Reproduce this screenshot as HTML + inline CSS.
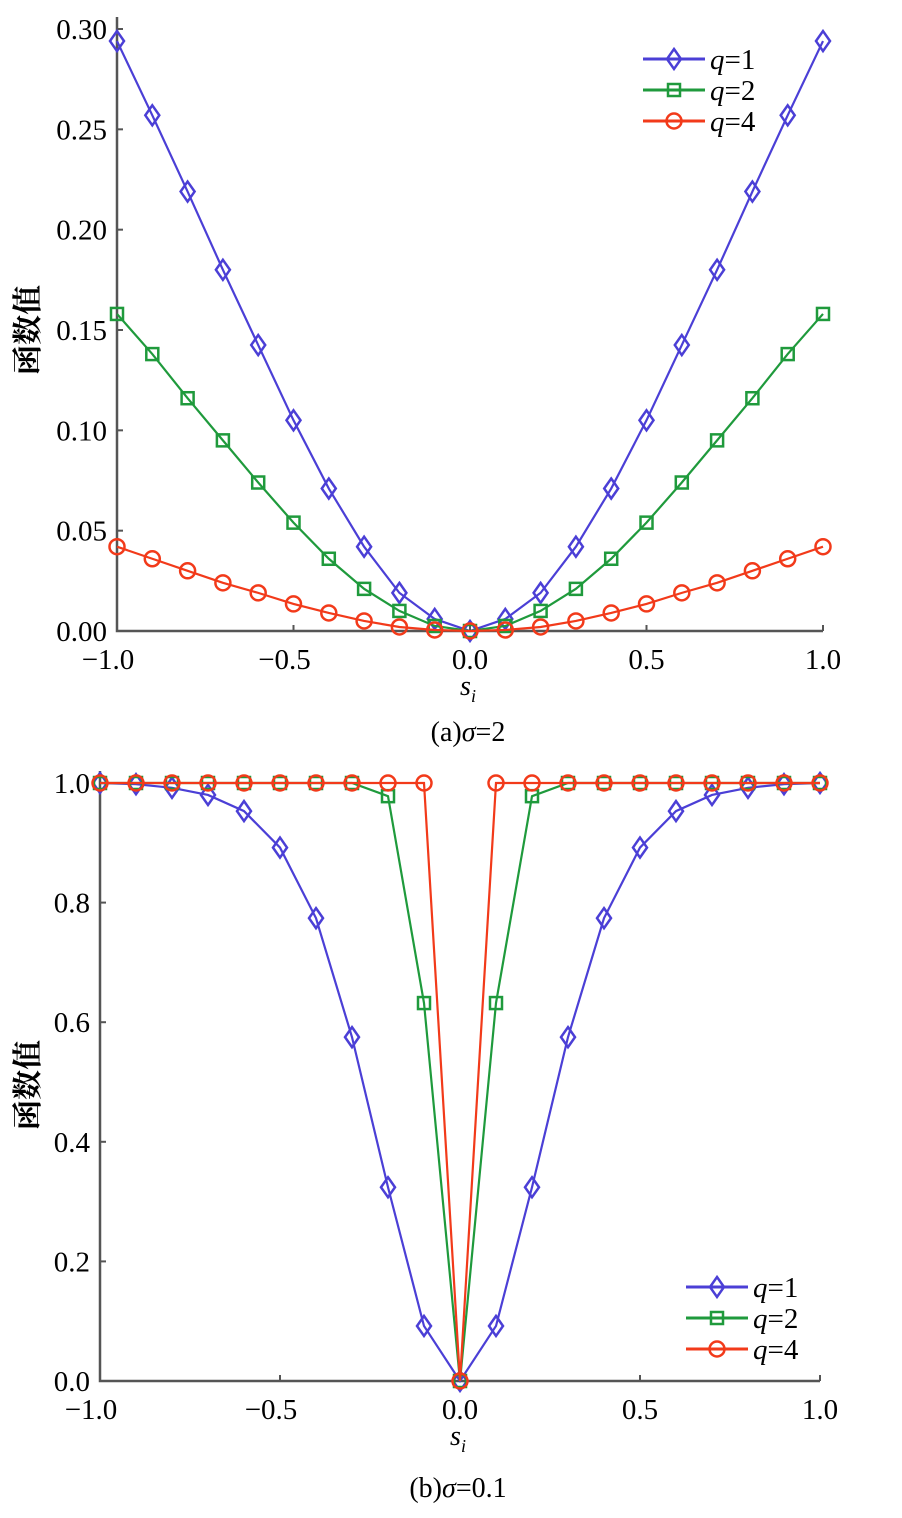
<!DOCTYPE html>
<html><head><meta charset="utf-8">
<style>
body{margin:0;background:#fff;}
svg text{font-family:"Liberation Serif","Noto Serif CJK SC",serif;fill:#000;}
</style></head>
<body>
<svg id="chart" width="902" height="1513" viewBox="0 0 902 1513" xmlns="http://www.w3.org/2000/svg"></svg>
<script>
const xValues=[-1,-0.9,-0.8,-0.7,-0.6,-0.5,-0.4,-0.3,-0.2,-0.1,0,0.1,0.2,0.3,0.4,0.5,0.6,0.7,0.8,0.9,1];
const topQ1=[0.294,0.257,0.219,0.180,0.1425,0.105,0.071,0.042,0.019,0.006,0,0.006,0.019,0.042,0.071,0.105,0.1425,0.180,0.219,0.257,0.294];
const topQ2=[0.158,0.138,0.116,0.095,0.074,0.054,0.036,0.021,0.010,0.0025,0,0.0025,0.010,0.021,0.036,0.054,0.074,0.095,0.116,0.138,0.158];
const topQ4=[0.042,0.036,0.030,0.024,0.019,0.0135,0.009,0.005,0.002,0.0005,0,0.0005,0.002,0.005,0.009,0.0135,0.019,0.024,0.030,0.036,0.042];
const botQ1=[1.0,0.998,0.992,0.98,0.953,0.892,0.774,0.575,0.324,0.092,0,0.092,0.324,0.575,0.774,0.892,0.953,0.98,0.992,0.998,1.0];
const botQ2=[1,1,1,1,1,1,1,1,0.978,0.632,0,0.632,0.978,1,1,1,1,1,1,1,1];
const botQ4=[1,1,1,1,1,1,1,1,1,1,0,1,1,1,1,1,1,1,1,1,1];
const xTicks=[-1,-0.5,0,0.5,1];
const xTickLabels=["\u22121.0","\u22120.5","0.0","0.5","1.0"];
const topYTicks=[0,0.05,0.1,0.15,0.2,0.25,0.3];
const topYLabels=["0.00","0.05","0.10","0.15","0.20","0.25","0.30"];
const botYTicks=[0,0.2,0.4,0.6,0.8,1.0];
const botYLabels=["0.0","0.2","0.4","0.6","0.8","1.0"];
const seriesNames=["q=1","q=2","q=4"];

const NS="http://www.w3.org/2000/svg";
const svg=document.getElementById('chart');
function mk(tag,attrs,parent){const e=document.createElementNS(NS,tag);for(const k in attrs)e.setAttribute(k,attrs[k]);(parent||svg).appendChild(e);return e;}
const colors=["#4b3fd6","#1f9a3c","#f23a1a"];

function marker(g,type,x,y,color){
  let m;
  if(type===0){m=mk('polygon',{points:`${x},${y-10} ${x+7},${y} ${x},${y+10} ${x-7},${y}`,fill:'none',stroke:color,'stroke-width':2.5},g);}
  else if(type===1){m=mk('rect',{x:x-6,y:y-6,width:12,height:12,fill:'none',stroke:color,'stroke-width':2.5},g);}
  else {m=mk('circle',{cx:x,cy:y,r:7.5,fill:'none',stroke:color,'stroke-width':2.5},g);}
  return m;
}

function drawPanel(p){
  const sx=v=>p.x0+(v+1)/2*(p.x1-p.x0);
  const sy=v=>p.y0-(v/p.ymax)*(p.y0-p.y1);
  const g=mk('g',{});
  
  
  const ax=mk('path',{d:`M${p.x0},${p.y1-12} V${p.y0} H${p.x1}`,fill:'none',stroke:'#555','stroke-width':2.5},g);
  
  
  xTicks.forEach((t,i)=>{
    mk('line',{x1:sx(t),x2:sx(t),y1:p.y0,y2:p.y0-6,stroke:'#555','stroke-width':2},g);
    const tx=mk('text',{x:sx(t)-(t<0?9:0),y:p.y0+38,'font-size':29,'text-anchor':'middle'},g);
    tx.textContent=xTickLabels[i];
    
    
  });
  p.yTicks.forEach((t,i)=>{
    mk('line',{x1:p.x0,x2:p.x0+6,y1:sy(t),y2:sy(t),stroke:'#555','stroke-width':2},g);
    const ty=mk('text',{x:p.x0-10,y:sy(t)+10,'font-size':29,'text-anchor':'end'},g);
    ty.textContent=p.yLabels[i];
    
    
  });
  const yl=mk('text',{x:0,y:0,'font-size':30,'font-weight':'bold','text-anchor':'middle',transform:`translate(38,${p.ylabelY}) rotate(-90)`},g);
  yl.textContent='函数值';
  
  
  const xl=mk('text',{x:p.xlabelX,y:p.y0+64,'font-size':28,'font-style':'italic','text-anchor':'middle'},g);
  xl.innerHTML='s<tspan font-size="18" dy="7">i</tspan>';
  
  
  const cap=mk('text',{x:p.xlabelX,y:p.y0+p.capDy,'font-size':28,'text-anchor':'middle'},g);
  cap.innerHTML=p.caption;
  
  
  p.series.forEach((s,k)=>{
    const sg=mk('g',{},g);
    
    
    const pts=xValues.map((x,i)=>sx(x)+','+sy(s[i])).join(' ');
    mk('polyline',{points:pts,fill:'none',stroke:colors[k],'stroke-width':2.2},sg);
    xValues.forEach((x,i)=>{const m=marker(sg,k,sx(x),sy(s[i]),colors[k]);
      
      });
  });
  const lg=mk('g',{},g);
  
  
  seriesNames.forEach((n,k)=>{
    const y=p.legY+k*31;
    mk('line',{x1:p.legX,x2:p.legX+62,y1:y,y2:y,stroke:colors[k],'stroke-width':3},lg);
    marker(lg,k,p.legX+31,y,colors[k]);
    const t=mk('text',{x:p.legX+67,y:y+10,'font-size':29},lg);
    t.innerHTML='<tspan font-style="italic">q</tspan>='+n.split('=')[1];
    
    
  });
}
drawPanel({name:'panel-a',x0:117,x1:823,y0:631,y1:29,ymax:0.30,yTicks:topYTicks,yLabels:topYLabels,series:[topQ1,topQ2,topQ4],legX:643,legY:59,ylabelY:330,xlabelX:468,capDy:110,caption:'(a)<tspan font-style="italic">σ</tspan>=2'});
drawPanel({name:'panel-b',x0:100,x1:820,y0:1381,y1:783,ymax:1.0,yTicks:botYTicks,yLabels:botYLabels,series:[botQ1,botQ2,botQ4],legX:686,legY:1287,ylabelY:1085,xlabelX:458,capDy:116,caption:'(b)<tspan font-style="italic">σ</tspan>=0.1'});
</script>
</body></html>
